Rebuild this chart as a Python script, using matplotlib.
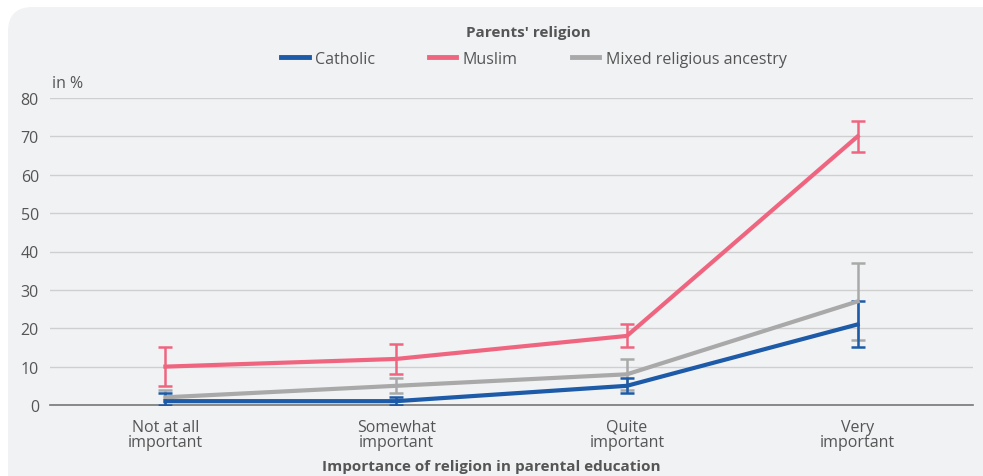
import matplotlib
matplotlib.use("Agg")
import matplotlib.pyplot as plt
from matplotlib.patches import FancyBboxPatch
from matplotlib.lines import Line2D

categories = ["Not at all\nimportant", "Somewhat\nimportant", "Quite\nimportant", "Very\nimportant"]
series = ["Catholic", "Muslim", "Mixed religious ancestry"]
catholic = [1, 1, 5, 21]
catholic_lo = [0, 0, 3, 15]
catholic_hi = [3, 2, 7, 27]
muslim = [10, 12, 18, 70]
muslim_lo = [5, 8, 15, 66]
muslim_hi = [15, 16, 21, 74]
mixed = [2, 5, 8, 27]
mixed_lo = [0, 3, 4, 17]
mixed_hi = [4, 7, 12, 37]
yticks = [0, 10, 20, 30, 40, 50, 60, 70, 80]

colors = {"Catholic": "#1d5aa8", "Muslim": "#ef6580", "Mixed religious ancestry": "#a9a9a9"}
bg = "#f1f2f4"
txt = "#555555"

plt.rcParams["font.family"] = ["Open Sans", "DejaVu Sans"]

W, H = 983, 477
fig = plt.figure(figsize=(W / 100, H / 100), dpi=100)
fig.patch.set_facecolor("white")
panel = FancyBboxPatch((8 / W, -0.1), 1.2, 1.1 - 8 / H,
                       boxstyle="round,pad=0,rounding_size=0.025",
                       transform=fig.transFigure, facecolor=bg, edgecolor="none",
                       zorder=-10, mutation_aspect=W / H)
fig.patches.append(panel)

ax = fig.add_axes([50 / W, (H - 406) / H, 923 / W, 307 / H])
ax.set_facecolor(bg)

x = list(range(len(categories)))
# gray first, then muslim, catholic on top
order = [("Mixed religious ancestry", mixed, mixed_lo, mixed_hi),
         ("Muslim", muslim, muslim_lo, muslim_hi),
         ("Catholic", catholic, catholic_lo, catholic_hi)]
for name, v, lo, hi in order:
    err = [[a - b for a, b in zip(v, lo)], [b - a for a, b in zip(v, hi)]]
    ax.errorbar(x, v, yerr=err, color=colors[name], lw=3, elinewidth=1.8,
                capsize=5, capthick=1.8, zorder=3)

ax.set_xlim(-0.5, 3.5)
ax.set_ylim(0, 80)
ax.set_yticks(yticks)
ax.set_xticks(x)
ax.set_xticklabels(categories, fontsize=11.5, color=txt, linespacing=0.95)
ax.tick_params(axis="y", labelsize=11.5, labelcolor=txt, length=0, pad=8)
ax.tick_params(axis="x", length=0, pad=10)
ax.grid(axis="y", color="#cfcfcf", lw=1)
ax.set_axisbelow(True)
for s in ["top", "right", "left"]:
    ax.spines[s].set_visible(False)
ax.spines["bottom"].set_color("#777777")
ax.spines["bottom"].set_linewidth(1.2)

fig.text(52 / W, (H - 84) / H, "in %", fontsize=11.5, color=txt, va="center")
fig.text(0.5, (H - 467) / H, "Importance of religion in parental education",
         fontsize=11, color=txt, fontweight="bold", ha="center", va="center")
fig.text(528 / W, (H - 33) / H, "Parents' religion", fontsize=11, color=txt,
         fontweight="bold", ha="center", va="center")

handles = [Line2D([0], [0], color=colors[s], lw=3.5) for s in series]
fig.legend(handles, series, loc="center", bbox_to_anchor=(534 / W, (H - 60) / H),
           ncol=3, frameon=False, fontsize=11.5, handlelength=1.7, handletextpad=0.4,
           columnspacing=3.4, labelcolor=txt)

fig.savefig("out.png", dpi=100, facecolor="white")
